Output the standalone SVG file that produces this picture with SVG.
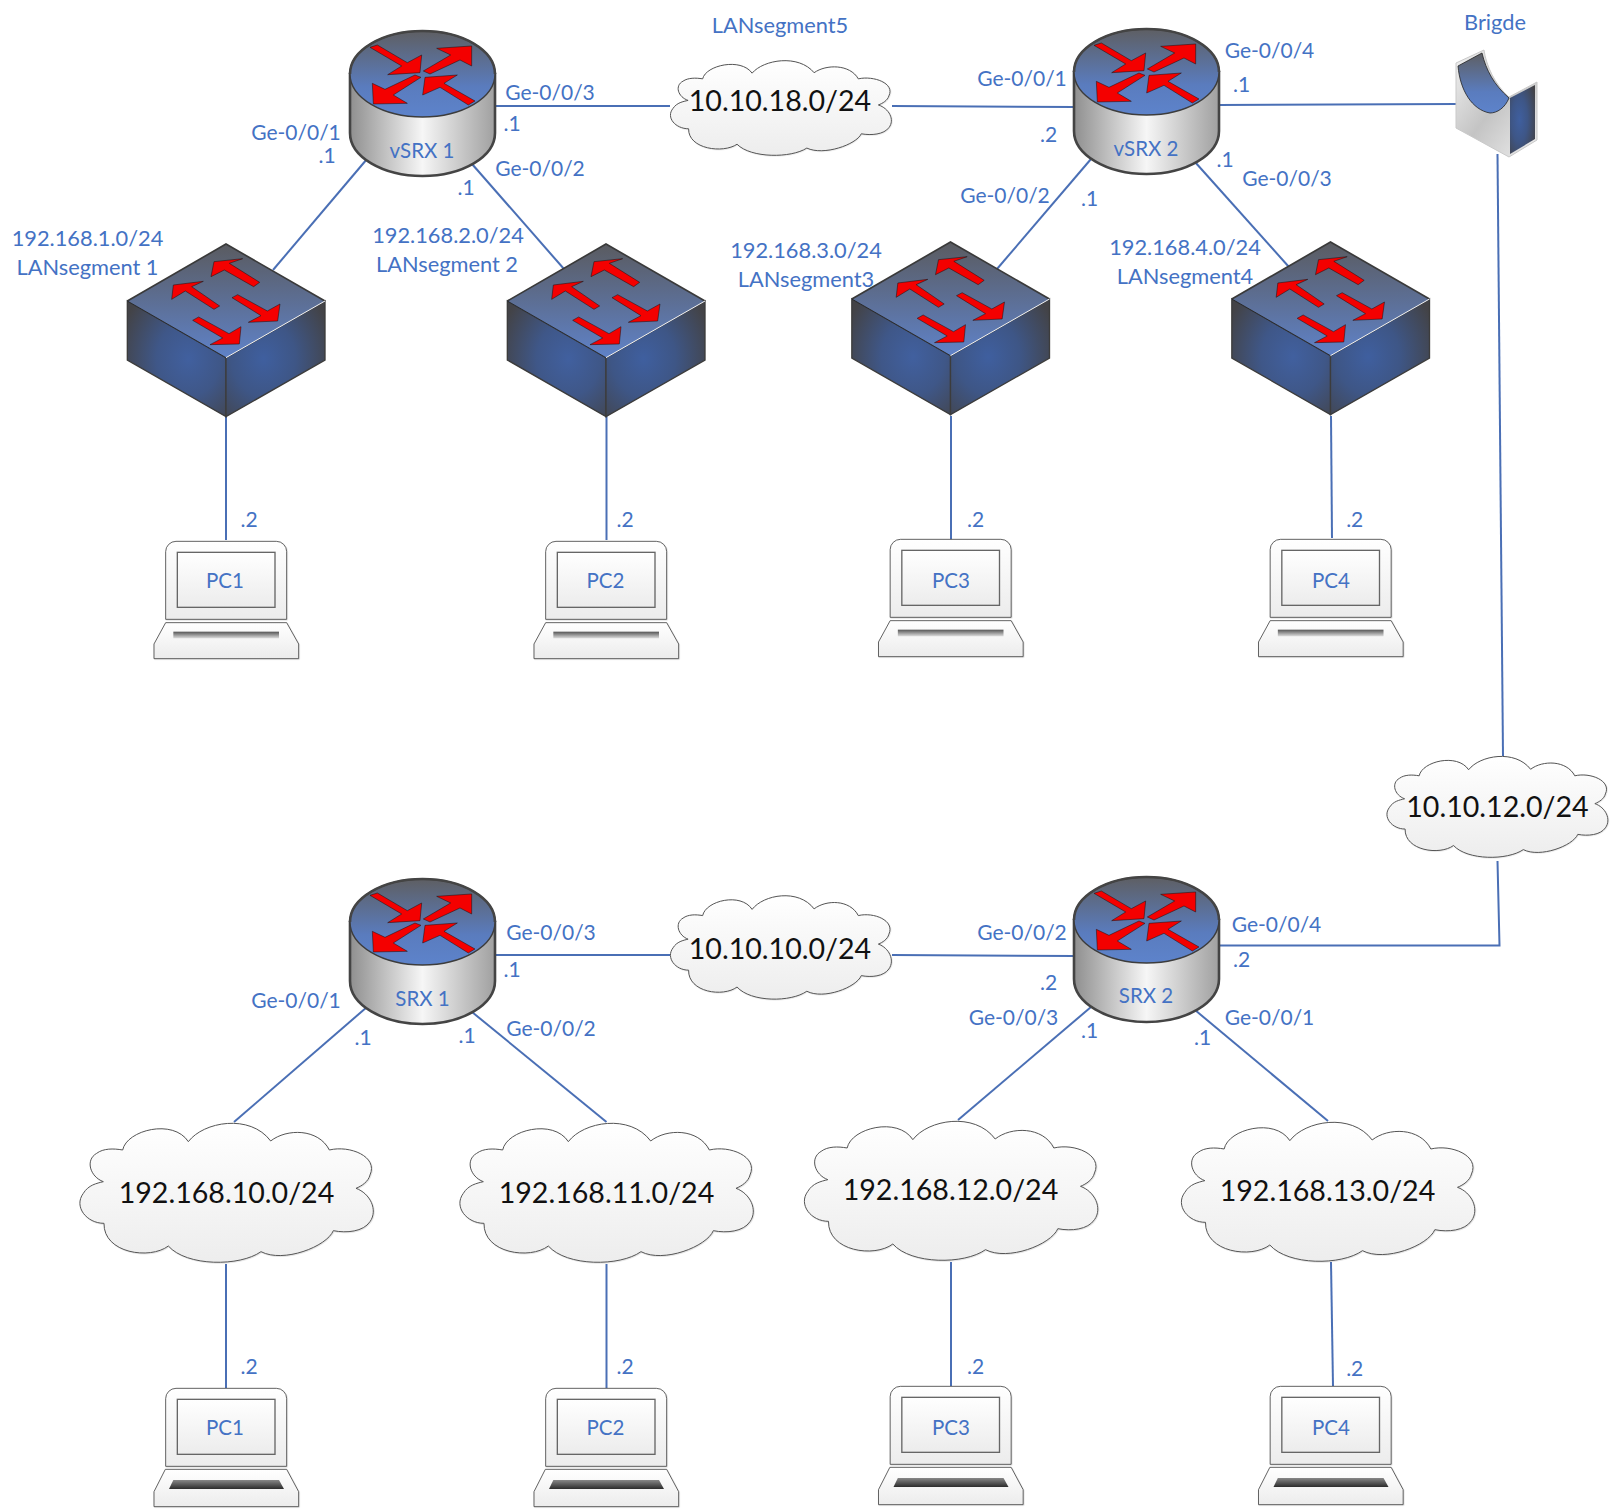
<svg xmlns="http://www.w3.org/2000/svg" width="1611" height="1510" viewBox="0 0 1611 1510">
<style>
text{font-family:"Lato","Carlito","Liberation Sans",sans-serif;text-anchor:middle}
.l{font-size:21px;fill:#4472c4}
.w{font-size:21.800px;fill:#4472c4}
.n{font-size:20.500px;fill:#4472c4}
.b{font-size:28.600px;fill:#111}
.c{stroke:#4a6fb5;stroke-width:2;fill:none}
.ar{fill:#f40000;stroke:#111;stroke-width:1.500;stroke-linejoin:round}
.cl{fill:url(#gCloud);stroke:#555;stroke-width:1;vector-effect:non-scaling-stroke;filter:url(#sh)}
</style>
<defs>
<filter id="sh" x="-5%" y="-5%" width="112%" height="115%"><feDropShadow dx="2" dy="2" stdDeviation="2" flood-color="#000" flood-opacity=".15"/></filter>
<linearGradient id="gBody" x1="0" x2="1" y1="0" y2="0"><stop offset="0" stop-color="#8f8f8f"/><stop offset=".5" stop-color="#f6f6f6"/><stop offset="1" stop-color="#a0a0a0"/></linearGradient>
<linearGradient id="gTop" x1="0" x2="0" y1="0" y2="1"><stop offset="0" stop-color="#5e5f63"/><stop offset=".65" stop-color="#5a7cbe"/><stop offset="1" stop-color="#5d83cb"/></linearGradient>
<linearGradient id="gSw" x1="0" x2="0" y1="0" y2="1"><stop offset="0" stop-color="#5a5b60"/><stop offset="1" stop-color="#5f82c8"/></linearGradient>
<radialGradient id="gSide" cx=".62" cy=".5" r=".72"><stop offset="0" stop-color="#41609f"/><stop offset=".45" stop-color="#3f5788"/><stop offset="1" stop-color="#434347"/></radialGradient>
<radialGradient id="gSide2" cx=".38" cy=".5" r=".72"><stop offset="0" stop-color="#3f5f9f"/><stop offset=".45" stop-color="#3e5686"/><stop offset="1" stop-color="#434347"/></radialGradient>
<linearGradient id="gCloud" x1="0" x2="0" y1="0" y2="1"><stop offset="0" stop-color="#ffffff"/><stop offset="1" stop-color="#ededed"/></linearGradient>
<linearGradient id="gLap" x1="0" x2="0" y1="0" y2="1"><stop offset="0" stop-color="#ffffff"/><stop offset="1" stop-color="#ececec"/></linearGradient>
<linearGradient id="gKey" x1="0" x2="0" y1="0" y2="1"><stop offset="0" stop-color="#555"/><stop offset="1" stop-color="#ddd"/></linearGradient>
<linearGradient id="gKey2" x1="0" x2="0" y1="0" y2="1"><stop offset="0" stop-color="#888"/><stop offset="1" stop-color="#2c2c2c"/></linearGradient>
<linearGradient id="gBr" x1="0" x2="1" y1="0" y2="1"><stop offset="0" stop-color="#f2f2f2"/><stop offset=".5" stop-color="#c4c4c4"/><stop offset="1" stop-color="#eeeeee"/></linearGradient>
<g id="router">
<path d="M350 74V133A72.5 43 0 0 0 495 133V74Z" fill="url(#gBody)" stroke="#444" stroke-width="2.6"/>
<ellipse cx="422.500" cy="74" rx="72.500" ry="43" fill="url(#gTop)" stroke="#3c3c3c" stroke-width="1.400"/>
<path d="M350 74A72.5 43 0 0 1 495 74" fill="none" stroke="#444" stroke-width="2.6"/>
<g transform="translate(320,0) scale(.33333)">
<polygon class="ar" points="150,142 172,135 262,188 305,165 300,218 203,224 245,198"/>
<polygon class="ar" points="310,213 392,165 350,145 455,138 455,198 420,180 330,222"/>
<polygon class="ar" points="303,232 220,285 262,310 160,312 157,250 195,268 285,225"/>
<polygon class="ar" points="465,303 445,315 360,262 308,285 315,232 412,225 372,250"/>
</g>
</g>
<g id="switch">
<g transform="translate(110,220) scale(.33333)">
<polygon points="52,243 348,413 348,590 52,420" fill="url(#gSide)" stroke="#3c3c3c" stroke-width="4"/>
<polygon points="645,243 348,413 348,590 645,420" fill="url(#gSide2)" stroke="#3c3c3c" stroke-width="4"/>
<polygon points="348,72 645,243 348,413 52,243" fill="url(#gSw)"/>
<path d="M52 243L348 72L645 243" fill="none" stroke="#3a3a3a" stroke-width="5"/>
<path d="M52 243L348 413" fill="none" stroke="#222" stroke-width="2.500"/>
<path d="M348 413L645 243" fill="none" stroke="#f4f4f4" stroke-width="3"/>
<polygon class="ar" points="449,187 431,200 343,150 303,170 312,125 398,116 358,130"/>
<polygon class="ar" points="329,258 312,268 226,213 185,238 190,195 280,184 245,200"/>
<polygon class="ar" points="366,233 383,224 472,273 510,252 503,303 415,307 453,287"/>
<polygon class="ar" points="248,301 266,291 357,341 393,320 388,372 300,374 338,354"/>
</g>
</g>
<g id="laptop" transform="translate(140,520) scale(.33333)">
<g filter="url(#sh)">
<path d="M77 298V95A31 31 0 0 1 108 64H409A31 31 0 0 1 440 95V298Z" fill="url(#gLap)" stroke="#444" stroke-width="2.500"/>
<polygon points="77,308 440,308 476,372 476,416 42,416 42,372" fill="url(#gLap)" stroke="#444" stroke-width="2.500"/>
</g>
<rect x="112" y="97" width="293" height="165" fill="url(#gLap)" stroke="#666" stroke-width="4"/>
<rect x="100" y="335" width="317" height="20" fill="url(#gKey)"/>
</g>
<g id="laptop2" transform="translate(140,523) scale(.33333)">
<g filter="url(#sh)">
<path d="M77 298V95A31 31 0 0 1 108 64H409A31 31 0 0 1 440 95V298Z" fill="url(#gLap)" stroke="#444" stroke-width="2.500"/>
<polygon points="76,307 440,307 476,374 476,419 42,419 42,374" fill="url(#gLap)" stroke="#444" stroke-width="2.500"/>
</g>
<rect x="112" y="97" width="293" height="165" fill="url(#gLap)" stroke="#666" stroke-width="4"/>
<polygon points="100,339 417,339 432,366 87,366" fill="url(#gKey2)"/>
</g>
<path id="cloud" class="cl" d="M355 125C400 65 540 40 602 123C650 85 745 85 778 150C840 135 925 170 900 225C895 245 875 258 858 265C900 280 925 330 900 365C880 395 830 400 790 392C770 440 640 490 573 455C510 500 350 500 295 438C240 480 100 460 102 370C50 370 10 320 40 280C55 255 80 250 100 245C60 230 45 180 80 160C100 145 130 145 158 150C170 90 310 55 355 125Z"/>
</defs>
<g id="connectors">
<path class="c" d="M367 159L273 270"/><path class="c" d="M472 164L564 269"/>
<path class="c" d="M226 416V540"/><path class="c" d="M606.500 416V540"/>
<path class="c" d="M495 106H670"/><path class="c" d="M892 106L1074 107"/>
<path class="c" d="M1091 159L997 269"/><path class="c" d="M1195 162L1289 267"/>
<path class="c" d="M951 416V540"/><path class="c" d="M1331 416L1332 538"/>
<path class="c" d="M1219 105L1457 104"/><path class="c" d="M1497.500 154L1503 756"/>
<path class="c" d="M1497.500 861L1499.500 945.500H1219"/>
<path class="c" d="M495 955H670"/><path class="c" d="M892 955L1074 956"/>
<path class="c" d="M367 1007L234 1122"/><path class="c" d="M472 1012L606.500 1122"/>
<path class="c" d="M226 1264V1388"/><path class="c" d="M606.500 1264V1388"/>
<path class="c" d="M1091 1007L958 1120"/><path class="c" d="M1195 1010L1328 1121"/>
<path class="c" d="M951 1262V1386"/><path class="c" d="M1331 1262L1333 1386"/>
</g>
<g id="vsrx1"><use href="#router"/><text class="n" x="422" y="158">vSRX 1</text></g>
<g id="vsrx2"><use href="#router" x="724" y="-2"/><text class="n" x="1146" y="155.500">vSRX 2</text></g>
<g id="srx1"><use href="#router" y="848"/><text class="n" x="422.500" y="1006">SRX 1</text></g>
<g id="srx2"><use href="#router" x="724" y="846"/><text class="n" x="1146" y="1002.500">SRX 2</text></g>
<g id="sw1"><use href="#switch"/></g>
<g id="sw2"><use href="#switch" x="380"/></g>
<g id="sw3"><use href="#switch" x="724.500" y="-2"/></g>
<g id="sw4"><use href="#switch" x="1104.500" y="-2"/></g>
<g id="bridge">
<path d="M1456 63L1484 50C1486 65 1495 85 1509 97L1537 82V140L1509 157L1456 128Z" fill="url(#gBr)" stroke="#c9c9c9"/>
<path d="M1458 66L1482 53C1486 70 1494 85 1509 98C1505 108 1497 113 1490 113C1472 110 1460 90 1458 66Z" fill="url(#gTop)" stroke="#222" stroke-width=".8"/>
<polygon points="1510,98 1535,85 1535,139 1510,154" fill="url(#gSide2)"/>
<text class="w" x="1495" y="30">Brigde</text>
</g>
<g id="pc1t"><use href="#laptop"/><text class="n" x="225" y="588">PC1</text></g>
<g id="pc2t"><use href="#laptop" x="380"/><text class="n" x="605.500" y="588">PC2</text></g>
<g id="pc3t"><use href="#laptop" x="724.500" y="-2"/><text class="n" x="951" y="588">PC3</text></g>
<g id="pc4t"><use href="#laptop" x="1104.500" y="-2"/><text class="n" x="1331" y="588">PC4</text></g>
<g id="pc1b" transform="translate(0,844)"><use href="#laptop2"/><text class="n" x="225" y="591">PC1</text></g>
<g id="pc2b" transform="translate(380,844)"><use href="#laptop2"/><text class="n" x="225.500" y="591">PC2</text></g>
<g id="pc3b" transform="translate(724.500,842)"><use href="#laptop2"/><text class="n" x="226.500" y="593">PC3</text></g>
<g id="pc4b" transform="translate(1104.500,842)"><use href="#laptop2"/><text class="n" x="226.500" y="593">PC4</text></g>
<g id="c18"><use href="#cloud" transform="translate(663,44.800) scale(.251,.227)"/><text class="b" x="780" y="111">10.10.18.0/24</text></g>
<g id="c12"><use href="#cloud" transform="translate(1379.500,739.500) scale(.251,.242)"/><text class="b" x="1497.500" y="817">10.10.12.0/24</text></g>
<g id="c10"><use href="#cloud" transform="translate(663,878.400) scale(.251,.248)"/><text class="b" x="780" y="959">10.10.10.0/24</text></g>
<g id="c1"><use href="#cloud" transform="translate(70,1100) scale(.33333)"/><text class="b" x="226.500" y="1203">192.168.10.0/24</text></g>
<g id="c2"><use href="#cloud" transform="translate(450,1100) scale(.33333)"/><text class="b" x="606.500" y="1203">192.168.11.0/24</text></g>
<g id="c3"><use href="#cloud" transform="translate(794.500,1098) scale(.33333)"/><text class="b" x="950.500" y="1200">192.168.12.0/24</text></g>
<g id="c4"><use href="#cloud" transform="translate(1171.500,1099) scale(.33333)"/><text class="b" x="1327.500" y="1201">192.168.13.0/24</text></g>
<g id="labels">
<text class="w" x="780" y="33">LANsegment5</text>
<text class="l" x="550" y="100">Ge-0/0/3</text><text class="l" x="512" y="131">.1</text>
<text class="l" x="540" y="176">Ge-0/0/2</text><text class="l" x="466" y="195">.1</text>
<text class="l" x="296" y="139.500">Ge-0/0/1</text><text class="l" x="327" y="163">.1</text>
<text class="w" x="87.500" y="246">192.168.1.0/24</text><text class="w" x="87.500" y="275">LANsegment 1</text>
<text class="w" x="448" y="243">192.168.2.0/24</text><text class="w" x="447" y="272">LANsegment 2</text>
<text class="l" x="249" y="527">.2</text><text class="l" x="625" y="527">.2</text><text class="l" x="975.500" y="527">.2</text><text class="l" x="1354.700" y="527">.2</text>
<text class="w" x="806" y="258">192.168.3.0/24</text><text class="w" x="806" y="287">LANsegment3</text>
<text class="l" x="1005" y="203">Ge-0/0/2</text><text class="l" x="1089.500" y="206">.1</text>
<text class="l" x="1022" y="86">Ge-0/0/1</text><text class="l" x="1048.500" y="142">.2</text>
<text class="l" x="1269.500" y="58">Ge-0/0/4</text><text class="l" x="1241.500" y="92">.1</text>
<text class="l" x="1225" y="167">.1</text><text class="l" x="1287" y="186">Ge-0/0/3</text>
<text class="w" x="1185" y="255">192.168.4.0/24</text><text class="w" x="1185" y="284">LANsegment4</text>
<text class="l" x="551" y="940">Ge-0/0/3</text><text class="l" x="512" y="977">.1</text>
<text class="l" x="551" y="1036">Ge-0/0/2</text><text class="l" x="467" y="1043">.1</text>
<text class="l" x="296" y="1008">Ge-0/0/1</text><text class="l" x="363" y="1045">.1</text>
<text class="l" x="1022" y="940">Ge-0/0/2</text><text class="l" x="1048.500" y="990">.2</text>
<text class="l" x="1013.500" y="1025">Ge-0/0/3</text><text class="l" x="1089.500" y="1038">.1</text>
<text class="l" x="1276.500" y="932">Ge-0/0/4</text><text class="l" x="1241.500" y="966.500">.2</text>
<text class="l" x="1269.500" y="1025">Ge-0/0/1</text><text class="l" x="1202.500" y="1045">.1</text>
<text class="l" x="249" y="1374">.2</text><text class="l" x="625" y="1374">.2</text><text class="l" x="975.500" y="1374">.2</text><text class="l" x="1354.700" y="1376">.2</text>
</g>
</svg>
